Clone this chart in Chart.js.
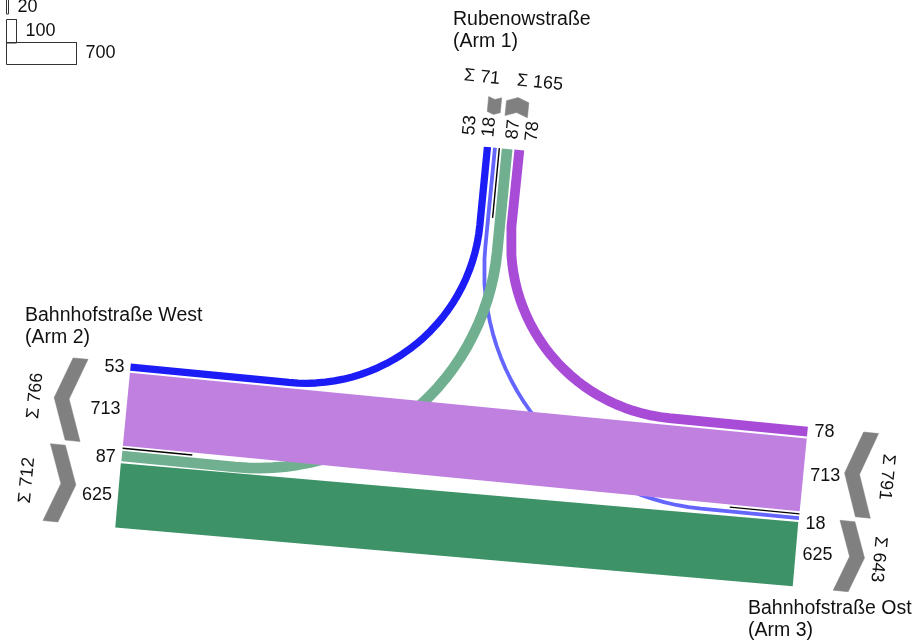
<!DOCTYPE html>
<html>
<head>
<meta charset="utf-8">
<script src="https://cdn.jsdelivr.net/npm/chart.js@4.4.1/dist/chart.umd.min.js"></script>
<style>
  html, body { margin: 0; padding: 0; background: #fff; }
  #wrap { width: 915px; height: 641px; }
</style>
</head>
<body>
<div id="wrap"><canvas id="c" width="915" height="641"></canvas></div>
<script>
// arms of the junction
const armNames = ['Rubenowstraße', 'Bahnhofstraße West', 'Bahnhofstraße Ost'];
const armTags = ['(Arm 1)', '(Arm 2)', '(Arm 3)'];

// turning flows (vehicles)
const flowFrom = [1, 1, 2, 2, 3, 3];
const flowTo = [2, 3, 1, 3, 1, 2];
const flowValues = [53, 18, 87, 625, 78, 713];
const flowColors = ['#1c1cf6', '#6464ff', '#70b090', '#3e9267', '#a84cd8', '#c080e0'];

// width scale boxes
const scaleValues = [20, 100, 700];

// ---- layout ----
const origin = { x: 467, y: 481.6 };
const tilt = Math.atan(0.097);
const pxPerUnit = 0.1;
const armDir = { 1: [0, -1], 2: [-1, 0], 3: [1, 0] };
const armEnd = { 1: 335, 2: 346, 3: 334 };
const laneInset = 2.5, laneGap = 2;
const leftRadius = 240, rightRadius = 175;
const font = '"Liberation Sans", Arial, sans-serif';

const cs = Math.cos(tilt), sn = Math.sin(tilt);
function toScreen(u, v) {
  return { x: origin.x + u * cs - v * sn, y: origin.y + u * sn + v * cs };
}
function nIn(a) { const d = armDir[a]; return [d[1], -d[0]]; }
function armLocal(a, t, q) {
  const d = armDir[a], n = nIn(a);
  return [d[0] * t + n[0] * q, d[1] * t + n[1] * q];
}
function armPoint(a, t, q) { const p = armLocal(a, t, q); return toScreen(p[0], p[1]); }

const bandWidth = v => v * pxPerUnit + 2;
function turnOf(i) {
  const a = armDir[flowFrom[i]], b = armDir[flowTo[i]];
  return -a[0] * b[1] + a[1] * b[0];
}

// stack lanes at each arm, inner lane = left turn
const inOff = [], outOff = [];
const groups = [];
[1, 2, 3].forEach(a => {
  [[1, flowFrom, inOff], [-1, flowTo, outOff]].forEach(([dir, ref, store]) => {
    const list = flowValues.map((_, i) => i).filter(i => ref[i] === a)
      .sort((i, j) => turnOf(i) - turnOf(j));
    let q = laneInset;
    list.forEach(i => {
      const w = bandWidth(flowValues[i]);
      store[i] = q + w / 2;
      q += w + laneGap;
    });
    groups.push({ arm: a, dir, lo: laneInset, hi: q - laneGap, items: list,
      sum: list.reduce((s, i) => s + flowValues[i], 0) });
  });
});

function flowPath(i) {
  const A = flowFrom[i], B = flowTo[i];
  const dA = armDir[A], dB = armDir[B];
  const pA = armLocal(A, 0, inOff[i]);
  const pB = armLocal(B, 0, -outOff[i]);
  const eA = armLocal(A, armEnd[A], inOff[i]);
  const eB = armLocal(B, armEnd[B], -outOff[i]);
  const turn = turnOf(i);
  if (turn === 0) return [eA, eB];
  const R = turn < 0 ? leftRadius : rightRadius;
  const k = (pB[0] - pA[0]) * dA[0] + (pB[1] - pA[1]) * dA[1];
  const C = [pA[0] + dA[0] * k, pA[1] + dA[1] * k];
  const K = [C[0] + (dA[0] + dB[0]) * R, C[1] + (dA[1] + dB[1]) * R];
  const pts = [eA];
  for (let j = 0; j <= 30; j++) {
    const f = j / 30 * Math.PI / 2;
    pts.push([K[0] - dB[0] * R * Math.cos(f) - dA[0] * R * Math.sin(f),
              K[1] - dB[1] * R * Math.cos(f) - dA[1] * R * Math.sin(f)]);
  }
  pts.push(eB);
  return pts;
}
const asData = pts => pts.map(p => { const s = toScreen(p[0], p[1]); return { x: s.x, y: s.y }; });

const datasets = [];
// bands (bandZ: stacking level, higher = on top)
const bandZ = [4, 0, 1, 3, 5, 2];
flowValues.forEach((v, i) => {
  datasets.push({
    data: asData(flowPath(i)),
    showLine: true, borderWidth: bandWidth(v), borderColor: flowColors[i],
    borderCapStyle: 'butt', borderJoinStyle: 'round', pointRadius: 0, fill: false,
    order: 100 - bandZ[i]
  });
});

// centre divider marks at the arm ends
[1, 2, 3].forEach(a => {
  datasets.push({
    data: asData([armLocal(a, armEnd[a], 0), armLocal(a, armEnd[a] - 70, 0)]),
    showLine: true, borderWidth: 1.4, borderColor: '#000', pointRadius: 0, fill: false, order: 10
  });
});

// chevrons (sum arrows)
const chevGap = { 1: 33, 2: 43, 3: 41 };
const chevThick = 15;
groups.forEach(g => {
  const mid = (g.lo + g.hi) / 2;
  const D = Math.min(15, 0.37 * (g.hi - g.lo) / 2);
  const near = armEnd[g.arm] + chevGap[g.arm];
  const far = near + chevThick + D;
  let pts;
  if (g.dir === -1) {
    pts = [[near, g.lo], [near + D, mid], [near, g.hi], [near + chevThick, g.hi],
           [near + chevThick + D, mid], [near + chevThick, g.lo]];
  } else {
    pts = [[far, g.lo], [far - D, mid], [far, g.hi], [far - chevThick, g.hi],
           [far - chevThick - D, mid], [far - chevThick, g.lo]];
  }
  pts.push(pts[0]);
  datasets.push({
    data: asData(pts.map(p => armLocal(g.arm, p[0], g.dir * p[1]))),
    showLine: true, borderWidth: 0.5, borderColor: '#808080', backgroundColor: '#808080',
    fill: 'shape', pointRadius: 0, order: 20
  });
});

// width scale boxes
const boxX = 6.5;
const boxTop = [-8.5, 19.5, 42.5], boxH = [22.5, 23.5, 22];
scaleValues.forEach((v, i) => {
  const w = v * pxPerUnit, top = boxTop[i], h = boxH[i];
  datasets.push({
    data: [{ x: boxX, y: top }, { x: boxX + w, y: top }, { x: boxX + w, y: top + h },
           { x: boxX, y: top + h }, { x: boxX, y: top }],
    showLine: true, borderWidth: 1, borderColor: '#333', pointRadius: 0, fill: false, order: 30
  });
});

const labelsPlugin = {
  id: 'labels',
  afterDraw(chart) {
    const ctx = chart.ctx, xs = chart.scales.x, ys = chart.scales.y;
    const P = p => ({ x: xs.getPixelForValue(p.x), y: ys.getPixelForValue(p.y) });
    const put = (str, p, rot, align) => {
      const q = P(p);
      ctx.save();
      ctx.translate(q.x, q.y);
      ctx.rotate(rot);
      ctx.textAlign = align;
      ctx.textBaseline = 'middle';
      ctx.fillText(str, 0, 0);
      ctx.restore();
    };
    ctx.save();
    ctx.fillStyle = '#111';
    ctx.font = '18px ' + font;

    // flow values at each arm end
    groups.forEach(g => {
      let prev = -Infinity;
      const minQ = g.arm === 1 ? 12 : 9.5, step = g.arm === 1 ? 19.5 : 14;
      g.items.forEach(i => {
        const c = g.dir === 1 ? inOff[i] : outOff[i];
        const q = Math.max(c, minQ, prev + step);
        prev = q;
        const sq = g.dir * q;
        if (g.arm === 1) put(String(flowValues[i]), armPoint(1, armEnd[1] + 10, sq), -Math.PI / 2 + tilt, 'left');
        if (g.arm === 2) put(String(flowValues[i]), armPoint(2, armEnd[2] + 6, sq), 0, 'right');
        if (g.arm === 3) put(String(flowValues[i]), armPoint(3, armEnd[3] + 7, sq), 0, 'left');
      });
      const mid = g.dir * (g.lo + g.hi) / 2;
      const t = 'Σ ' + g.sum;
      if (g.arm === 2) put(t, armPoint(2, armEnd[2] + 92, mid), -Math.PI / 2 + tilt, 'center');
      if (g.arm === 3) put(t, armPoint(3, armEnd[3] + 83, mid), Math.PI / 2 + tilt, 'center');
      if (g.arm === 1) put(t, armPoint(1, armEnd[1] + 69, g.dir === 1 ? 6 : -11), tilt, g.dir === 1 ? 'right' : 'left');
    });

    // scale box labels
    scaleValues.forEach((v, i) => {
      put(String(v), { x: boxX + v * pxPerUnit + 9, y: Math.max(boxTop[i] + boxH[i] / 2, 7) }, 0, 'left');
    });

    // arm names
    ctx.font = '19.5px ' + font;
    const titlePos = [[453, 20], [25, 316], [748, 609]];
    armNames.forEach((n, i) => {
      put(n, { x: titlePos[i][0], y: titlePos[i][1] }, 0, 'left');
      put(armTags[i], { x: titlePos[i][0], y: titlePos[i][1] + 22 }, 0, 'left');
    });
    ctx.restore();
  }
};

new Chart(document.getElementById('c'), {
  type: 'scatter',
  data: { datasets },
  options: {
    responsive: false,
    animation: false,
    events: [],
    devicePixelRatio: 1,
    layout: { padding: 0 },
    scales: {
      x: { type: 'linear', min: 0, max: 915, display: false },
      y: { type: 'linear', min: 0, max: 641, reverse: true, display: false }
    },
    plugins: { legend: { display: false }, tooltip: { enabled: false } }
  },
  plugins: [labelsPlugin]
});
</script>
</body>
</html>
